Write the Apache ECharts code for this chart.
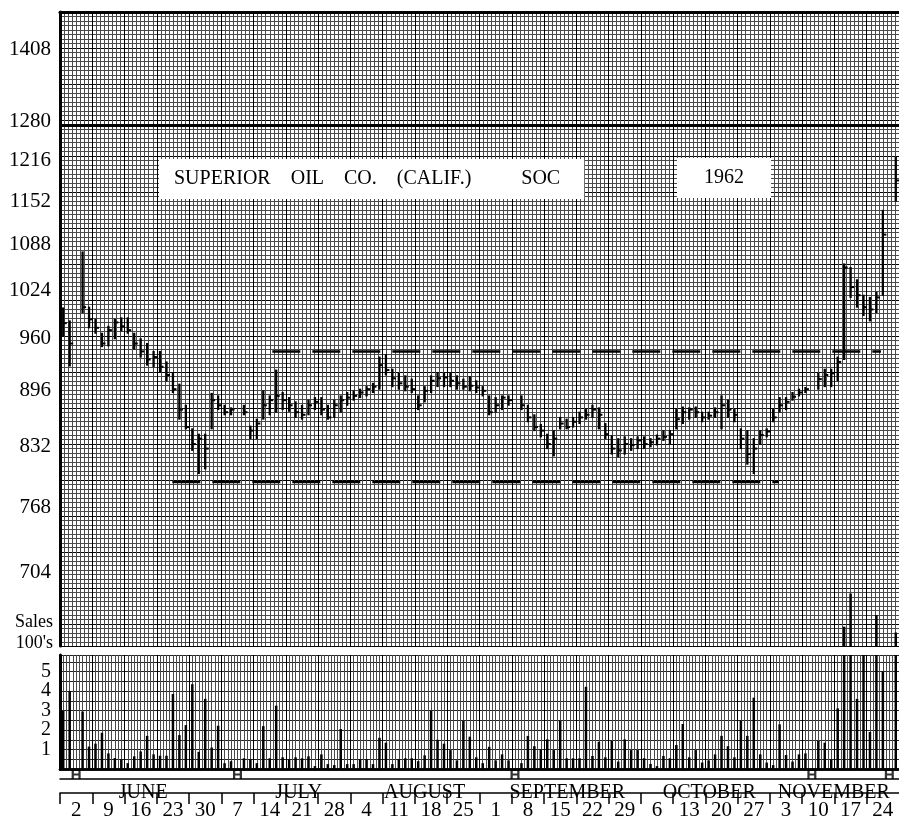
<!DOCTYPE html>
<html><head><meta charset="utf-8">
<script src="https://cdn.jsdelivr.net/npm/echarts@6/dist/echarts.min.js"></script>
<style>html,body{margin:0;padding:0;background:#fff;}#c{width:899px;height:821px;}</style>
</head><body><div id="c"></div>
<script>
// ---------- data ----------
const priceTicks = [704, 768, 832, 896, 960, 1024, 1088, 1152, 1216, 1280, 1408];
const volumeTicks = [1, 2, 3, 4, 5];
const weekLabels = ['2','9','16','23','30','7','14','21','28','4','11','18','25','1','8','15','22','29','6','13','20','27','3','10','17','24'];
const months = ['JUNE','JULY','AUGUST','SEPTEMBER','OCTOBER','NOVEMBER'];
const monthCenters = [12.9, 37.0, 56.5, 78.6, 100.6, 119.9];   // in trading-day units
const holidays = [2, 27, 70, 116, 128];                          // trading-day slots marked H
const heavyPaperLines = [1280];
const upperChannel = [32.9, 127.2, 944];   // from day, to day, price
const lowerChannel = [17.4, 111.4, 794];

const highs = [1000,983,null,1077,1001, 985,967,976,985,987, 987,967,960,954,944, 944,931,918,904,879,
  852,846,846,893,890, 879,876,null,879,855, 863,896,890,921,894, 888,883,879,885,888,
  888,879,885,890,894, 896,898,901,905,937, 940,922,917,914,910, 890,901,914,918,917,
  918,914,910,913,908, 901,890,888,890,890, null,890,879,868,857, 846,850,865,863,865,
  871,874,879,876,858, 844,841,843,841,843, 843,841,845,850,850, 874,877,876,877,871,
  871,876,890,885,874, 852,850,841,850,852, 874,888,888,894,898, 900,null,917,922,922,
  937,1060,1055,1038,1017, 1014,1021,1138,null,1221];
const lows = [964,926,null,994,974, 967,950,951,960,970, 967,947,937,927,925, 918,908,894,863,852,
  828,803,808,852,874, 868,868,null,868,841, 841,863,868,871,874, 872,865,863,868,874,
  868,863,865,871,879, 885,888,890,894,898, 915,901,898,896,894, 874,883,894,901,901,
  901,898,898,896,894, 890,868,871,874,879, null,874,860,850,843, 830,822,852,852,854,
  858,863,865,852,841, 824,821,824,828,830, 830,832,834,839,835, 852,858,863,865,860,
  863,865,852,865,860, 830,813,803,835,843, 860,871,874,885,890, 894,null,898,901,901,
  908,934,1014,1001,990, 983,994,1017,null,1152];
const closes = [980,954,null,1001,985, 974,954,971,981,976, 971,954,944,934,937, 925,915,898,874,854,
  835,841,830,885,879, 871,874,null,871,850, 858,879,885,890,885, 879,871,868,879,883,
  874,865,879,885,888, 890,894,898,901,927, 921,911,905,901,898, 879,896,908,911,912,
  908,905,901,902,900, 896,871,879,888,885, null,879,865,854,850, 835,841,858,854,860,
  865,868,874,868,846, 830,828,835,834,839, 835,837,841,843,846, 863,871,874,871,865,
  867,871,879,874,868, 841,824,830,845,849, 865,879,883,889,894, 898,null,910,915,917,
  931,1055,1028,1017,1001, 998,1014,1102,null,1184];
const volumes = [3.0,4.0,null,2.95,1.15, 1.3,1.86,0.8,0.56,0.5, 0.3,0.65,0.9,1.7,0.75, 0.68,0.68,3.85,1.74,2.25,
  4.35,0.88,3.6,1.1,2.22, 0.3,0.4,null,0.55,0.5, 0.3,2.2,0.55,3.25,0.6, 0.5,0.6,0.55,0.65,0.15,
  0.75,0.25,0.2,2.05,0.25, 0.25,0.5,0.5,0.25,1.6, 1.35,0.25,0.5,0.55,0.55, 0.4,0.7,3.0,1.5,1.3,
  0.97,0.44,2.48,1.66,0.6, 0.3,1.14,0.44,0.75,0.44, null,0.3,1.7,1.17,1.0, 1.52,0.97,2.48,0.55,0.55,
  0.55,4.22,0.67,1.4,0.6, 1.44,0.38,1.52,0.97,0.97, 0.55,0.26,0.15,0.67,0.55, 1.23,2.31,0.6,0.97,0.33,
  0.44,0.75,1.7,1.17,0.6, 2.48,1.7,3.66,0.75,0.33, 0.2,2.29,0.72,0.38,0.75, 0.8,null,1.44,1.35,0.5,
  3.11,7.3,9.0,3.6,5.9, 1.9,7.9,5.0,null,7.0];

// ---------- layout ----------
const DAYS = 130;
const L = 60, W = 839;
const SERIF = '"Liberation Serif", "DejaVu Serif", serif';
const ln = Math.log;
const priceMin = 639, priceMax = 1480;
const volMax = 5.85;

const priceData = [];
const volData = [];
for (let i = 0; i < DAYS; i++) {
  if (highs[i] != null) priceData.push([i + 0.5, ln(highs[i]), ln(lows[i]), ln(closes[i])]);
  if (volumes[i] != null) volData.push([i + 0.5, volumes[i]]);
}
const weekStarts = weekLabels.map((_, w) => w * 5);
const weekCenters = weekLabels.map((_, w) => w * 5 + 2.5);

function hiddenX(grid) {
  return {type:'value', gridIndex:grid, min:0, max:DAYS, show:false};
}
const blackLine = (w) => ({show:true, lineStyle:{color:'#000', width:w}});
const MINOR = '#4a4a4a', MAJOR = '#000';
const volLabelAxis = (vals) => ({type:'value', gridIndex:1, min:0, max:volMax, position:'left',
  axisLine:{show:false}, axisTick:{show:false}, splitLine:{show:false},
  axisLabel:{show:true, interval:0, customValues:vals, margin:9, fontFamily:SERIF, fontSize:20, color:'#000',
    showMinLabel:true, showMaxLabel:true, hideOverlap:false}});

const option = {
  animation: false,
  backgroundColor: '#fff',
  title: [
    {text:'SUPERIOR    OIL    CO.    (CALIF.)          SOC', left:159, top:159,
     backgroundColor:'#fff', padding:[10, 24, 10, 15],
     textStyle:{fontFamily:SERIF, fontSize:20, fontWeight:'normal', color:'#000'}},
    {text:'1962', left:677, top:158, backgroundColor:'#fff', padding:[10, 27, 10, 27],
     textStyle:{fontFamily:SERIF, fontSize:20, fontWeight:'normal', color:'#000'}}
  ],
  grid: [
    {left:L, top:12, width:W, height:634},
    {left:L, top:655, width:W, height:114},
    {left:L, top:560, width:W, height:86},
    {left:L, top:769, width:W, height:10},
    {left:L, top:779, width:W, height:22}
  ],
  xAxis: [
    {type:'value', gridIndex:0, min:0, max:DAYS, interval:5, position:'bottom',
     axisLine:blackLine(2.5), axisTick:{show:false}, axisLabel:{show:false},
     splitLine:{show:true, lineStyle:{color:MAJOR, width:1}},
     minorTick:{show:false, splitNumber:8},
     minorSplitLine:{show:true, lineStyle:{color:MINOR, width:1}}},
    {type:'value', gridIndex:0, min:0, max:DAYS, position:'top',
     axisLine:blackLine(3), axisTick:{show:false}, axisLabel:{show:false}, splitLine:{show:false}},
    {type:'value', gridIndex:1, min:0, max:DAYS, interval:5, position:'bottom',
     axisLine:blackLine(2.5), axisTick:{show:false}, axisLabel:{show:false},
     splitLine:{show:true, lineStyle:{color:MAJOR, width:1}},
     minorTick:{show:false, splitNumber:10},
     minorSplitLine:{show:true, lineStyle:{color:MINOR, width:1}}},
    {type:'value', gridIndex:1, min:0, max:DAYS, position:'top',
     axisLine:blackLine(2.5), axisTick:{show:false}, axisLabel:{show:false}, splitLine:{show:false}},
    hiddenX(2),
    {type:'value', gridIndex:3, min:0, max:DAYS, position:'bottom',
     axisLine:blackLine(1.5), axisTick:{show:false}, splitLine:{show:false},
     axisLabel:{show:true, interval:0, customValues:monthCenters, margin:4, fontFamily:SERIF, fontSize:20, color:'#000',
       showMinLabel:true, showMaxLabel:true, hideOverlap:false,
       formatter:(v) => { let k = 0, best = 1e9; monthCenters.forEach((m, j) => { if (Math.abs(m - v) < best) { best = Math.abs(m - v); k = j; } }); return months[k]; }}},
    {type:'value', gridIndex:4, min:0, max:DAYS, position:'bottom',
     axisLine:blackLine(1.5), splitLine:{show:false},
     axisTick:{show:true, customValues:weekStarts, length:11, inside:false, lineStyle:{color:'#000', width:1.5}},
     axisLabel:{show:true, interval:0, customValues:weekCenters, margin:2, padding:[5, 0, 0, 0],
       fontFamily:SERIF, fontSize:21, color:'#000',
       showMinLabel:true, showMaxLabel:true, hideOverlap:false,
       formatter:(v) => weekLabels[Math.round((v - 2.5) / 5)]}}
  ],
  yAxis: [
    {type:'value', gridIndex:0, min:ln(priceMin), max:ln(priceMax), position:'left',
     axisLine:blackLine(3), axisTick:{show:false}, splitLine:{show:false},
     axisLabel:{show:true, interval:0, customValues:priceTicks.map(ln), margin:9, fontFamily:SERIF, fontSize:21, color:'#000',
       showMinLabel:true, showMaxLabel:true, hideOverlap:false,
       formatter:(v) => String(Math.round(Math.exp(v)))}},
    {type:'value', gridIndex:0, min:0, max:634, interval:36, inverse:true, position:'right',
     axisLine:{show:false}, axisTick:{show:false}, axisLabel:{show:false},
     splitLine:{show:true, lineStyle:{color:MAJOR, width:1}},
     minorTick:{show:false, splitNumber:8},
     minorSplitLine:{show:true, lineStyle:{color:MINOR, width:1}}},
    {type:'value', gridIndex:1, min:0, max:volMax, interval:0.5, position:'left',
     axisLine:blackLine(3), axisTick:{show:false},
     splitLine:{show:true, lineStyle:{color:'#222', width:1}},
     axisLabel:{show:false}},
    {type:'value', gridIndex:2, min:6.31, max:6.31 + 86 / 19.5, show:false},
    {type:'value', gridIndex:3, min:0, max:1, show:false},
    {type:'value', gridIndex:4, min:0, max:1, show:false},
    volLabelAxis(volumeTicks.filter(v => v % 2 === 1)),
    volLabelAxis(volumeTicks.filter(v => v % 2 === 0))
  ],
  graphic: [
    {type:'text', style:{text:'Sales', x:53, y:622, textAlign:'right', textVerticalAlign:'middle', font:'18px ' + SERIF, fill:'#000'}},
    {type:'text', style:{text:"100's", x:53, y:643, textAlign:'right', textVerticalAlign:'middle', font:'18px ' + SERIF, fill:'#000'}}
  ],
  series: [
    {type:'custom', xAxisIndex:0, yAxisIndex:0, data:priceData, encode:{x:0, y:[1,2,3]}, clip:true, z:5,
     renderItem:(params, api) => {
       const x = api.value(0);
       const h = api.coord([x, api.value(1)]);
       const l = api.coord([x, api.value(2)]);
       const c = api.coord([x, api.value(3)]);
       return {type:'group', children:[
         {type:'line', shape:{x1:h[0], y1:h[1] - 0.5, x2:l[0], y2:l[1] + 0.5}, style:{stroke:'#000', lineWidth:2.3}},
         {type:'line', shape:{x1:c[0], y1:c[1], x2:c[0] + 3.5, y2:c[1]}, style:{stroke:'#000', lineWidth:2}}
       ]};
     },
     markLine:{silent:true, symbol:'none', label:{show:false}, animation:false,
       lineStyle:{color:'#000', width:3, type:'solid'},
       data: heavyPaperLines.map(p => ({yAxis: ln(p)}))}
    },
    {type:'line', xAxisIndex:0, yAxisIndex:0, symbol:'none', z:4,
     data:[[upperChannel[0], ln(upperChannel[2])], [upperChannel[1], ln(upperChannel[2])]],
     lineStyle:{color:'#000', width:2.5, type:[28, 12]}},
    {type:'line', xAxisIndex:0, yAxisIndex:0, symbol:'none', z:4,
     data:[[lowerChannel[0], ln(lowerChannel[2])], [lowerChannel[1], ln(lowerChannel[2])]],
     lineStyle:{color:'#000', width:2.5, type:[28, 12]}},
    {type:'bar', xAxisIndex:2, yAxisIndex:2, data:volData, barWidth:2.5, clip:true,
     itemStyle:{color:'#000'}},
    {type:'bar', xAxisIndex:4, yAxisIndex:3, data:volData, barWidth:2.5, clip:true,
     itemStyle:{color:'#000'}},
    {type:'scatter', xAxisIndex:5, yAxisIndex:4,
     data: holidays.map(i => [i + 0.5, 0.5]),
     symbol:'path://M0,0H10V2H0ZM0,0H2.5V10H0ZM7.5,0H10V10H7.5ZM0,4.5H10V6.5H0Z',
     symbolSize:[9, 10], itemStyle:{color:'#000'}}
  ]
};

const chart = echarts.init(document.getElementById('c'), null, {renderer:'canvas'});
chart.setOption(option);
</script>
</body></html>
